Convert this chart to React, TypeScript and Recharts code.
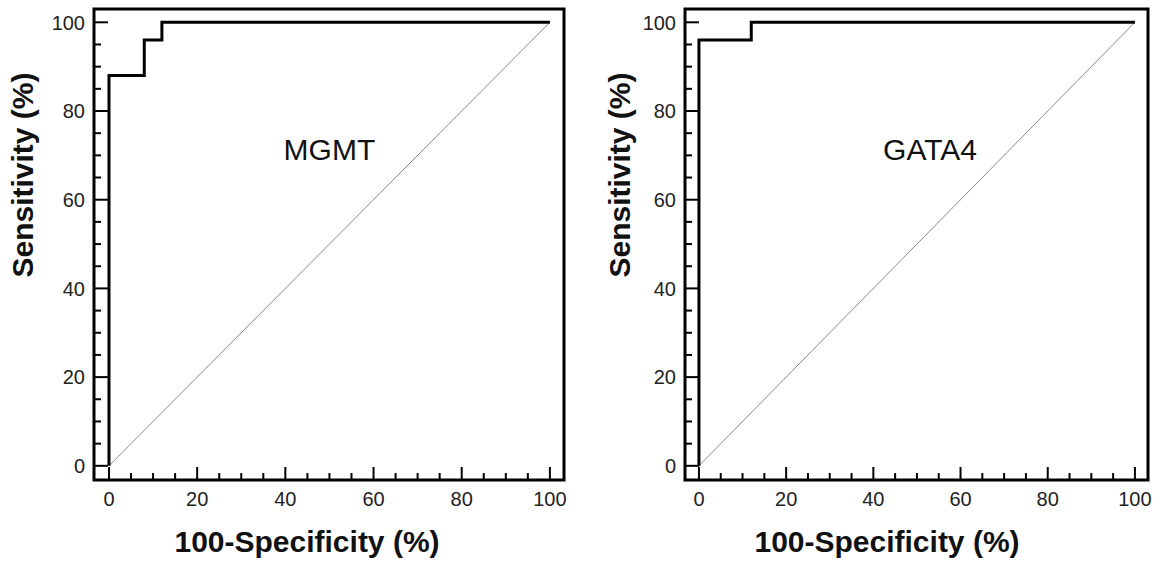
import React from 'react';
import { LineChart, Line, XAxis, YAxis, ReferenceDot, ReferenceArea } from 'recharts';

// ROC curve vertices (percent)
const MGMT_FPR = [0, 0, 8, 8, 12, 12, 100];
const MGMT_TPR = [0, 88, 88, 96, 96, 100, 100];
const GATA4_FPR = [0, 0, 12, 12, 100];
const GATA4_TPR = [0, 96, 96, 100, 100];
// chance line
const DIAG_FPR = [0, 100];
const DIAG_TPR = [0, 100];

const AXIS_TICKS = [0, 5, 10, 15, 20, 25, 30, 35, 40, 45, 50, 55, 60, 65, 70, 75, 80, 85, 90, 95, 100];
const X_TITLE = '100-Specificity (%)';
const Y_TITLE = 'Sensitivity (%)';

const FONT = '"Liberation Sans", Arial, Helvetica, sans-serif';

const toPoints = (xs: number[], ys: number[]) => xs.map((x, i) => ({ x, y: ys[i] }));

const YTick = (props: any) => {
  const { x, y, payload } = props;
  const major = payload.value % 20 === 0;
  return (
    <g>
      <line x1={x} x2={x + (major ? 14 : 7)} y1={y} y2={y} stroke="#000" strokeWidth={2} />
      {major && (
        <text x={x - 9} y={y} dy="0.36em" textAnchor="end" fontSize={20} fontFamily={FONT} fill="#222">
          {payload.value}
        </text>
      )}
    </g>
  );
};

const XTick = (props: any) => {
  const { x, y, payload } = props;
  const major = payload.value % 20 === 0;
  return (
    <g>
      <line x1={x} x2={x} y1={y} y2={y - (major ? 13 : 7)} stroke="#000" strokeWidth={2} />
      {major && (
        <text x={x} y={y + 26} textAnchor="middle" fontSize={20} fontFamily={FONT} fill="#222">
          {payload.value}
        </text>
      )}
    </g>
  );
};

interface PanelProps {
  name: string;
  fpr: number[];
  tpr: number[];
  nameX: number;
  nameY: number;
  left: number;
  plotLeft: number;
  plotRight: number;
  xDomain: [number, number];
  yTitleX: number;
  xTitleX: number;
}

const W = 585;
const H = 563;
const PLOT_TOP = 9;
const PLOT_BOTTOM = 480;
const Y_DOMAIN: [number, number] = [-3.2, 103.0];

function RocPanel(p: PanelProps) {
  const roc = toPoints(p.fpr, p.tpr);
  const diag = toPoints(DIAG_FPR, DIAG_TPR);
  return (
    <div style={{ position: 'absolute', left: p.left, top: 0, width: W, height: H }}>
      <LineChart
        width={W}
        height={H}
        margin={{ top: PLOT_TOP, right: W - p.plotRight, bottom: 0, left: 0 }}
      >
        <XAxis
          dataKey="x"
          type="number"
          domain={p.xDomain}
          ticks={AXIS_TICKS}
          interval={0}
          height={H - PLOT_BOTTOM}
          tickSize={0}
          tickMargin={0}
          tickLine={false}
          tick={<XTick />}
          axisLine={false}
          allowDataOverflow
          label={{
            content: () => (
              <text x={p.xTitleX} y={552} textAnchor="middle" fontSize={30} fontWeight="bold" fontFamily={FONT} fill="#111">
                {X_TITLE}
              </text>
            ),
          }}
        />
        <YAxis
          type="number"
          domain={Y_DOMAIN}
          ticks={AXIS_TICKS}
          interval={0}
          width={p.plotLeft}
          tickSize={0}
          tickMargin={0}
          tickLine={false}
          tick={<YTick />}
          axisLine={false}
          allowDataOverflow
          label={{
            content: () => (
              <text
                x={p.yTitleX}
                y={175}
                transform={`rotate(-90 ${p.yTitleX} 175)`}
                textAnchor="middle"
                fontSize={30}
                fontWeight="bold"
                fontFamily={FONT}
                fill="#111"
              >
                {Y_TITLE}
              </text>
            ),
          }}
        />
        <Line data={diag} dataKey="y" type="linear" stroke="#8a8a8a" strokeWidth={1} dot={false} isAnimationActive={false} />
        <Line
          data={roc}
          dataKey="y"
          type="linear"
          stroke="#000"
          strokeWidth={3}
          strokeLinejoin="miter"
          dot={false}
          isAnimationActive={false}
        />
        {/* plot frame */}
        <ReferenceArea
          x1={p.xDomain[0]}
          x2={p.xDomain[1]}
          y1={Y_DOMAIN[0]}
          y2={Y_DOMAIN[1]}
          ifOverflow="visible"
          fill="none"
          fillOpacity={0}
          stroke="#000"
          strokeWidth={3}
        />
        <ReferenceDot
          x={p.nameX}
          y={p.nameY}
          ifOverflow="visible"
          shape={(s: any) => (
            <text x={s.cx} y={s.cy} textAnchor="middle" fontSize={30} fontFamily={FONT} fill="#111">
              {p.name}
            </text>
          )}
        />
      </LineChart>
    </div>
  );
}

export default function App() {
  return (
    <div style={{ position: 'absolute', left: 0, top: 0, width: 1170, height: 563, background: '#fff' }}>
      <RocPanel
        name="MGMT"
        fpr={MGMT_FPR}
        tpr={MGMT_TPR}
        nameX={50}
        nameY={69}
        left={0}
        plotLeft={94}
        plotRight={564}
        xDomain={[-3.4, 103.2]}
        yTitleX={33}
        xTitleX={307}
      />
      <RocPanel
        name="GATA4"
        fpr={GATA4_FPR}
        tpr={GATA4_TPR}
        nameX={53}
        nameY={69}
        left={585}
        plotLeft={100}
        plotRight={563}
        xDomain={[-3.2, 103.0]}
        yTitleX={45}
        xTitleX={302}
      />
    </div>
  );
}
